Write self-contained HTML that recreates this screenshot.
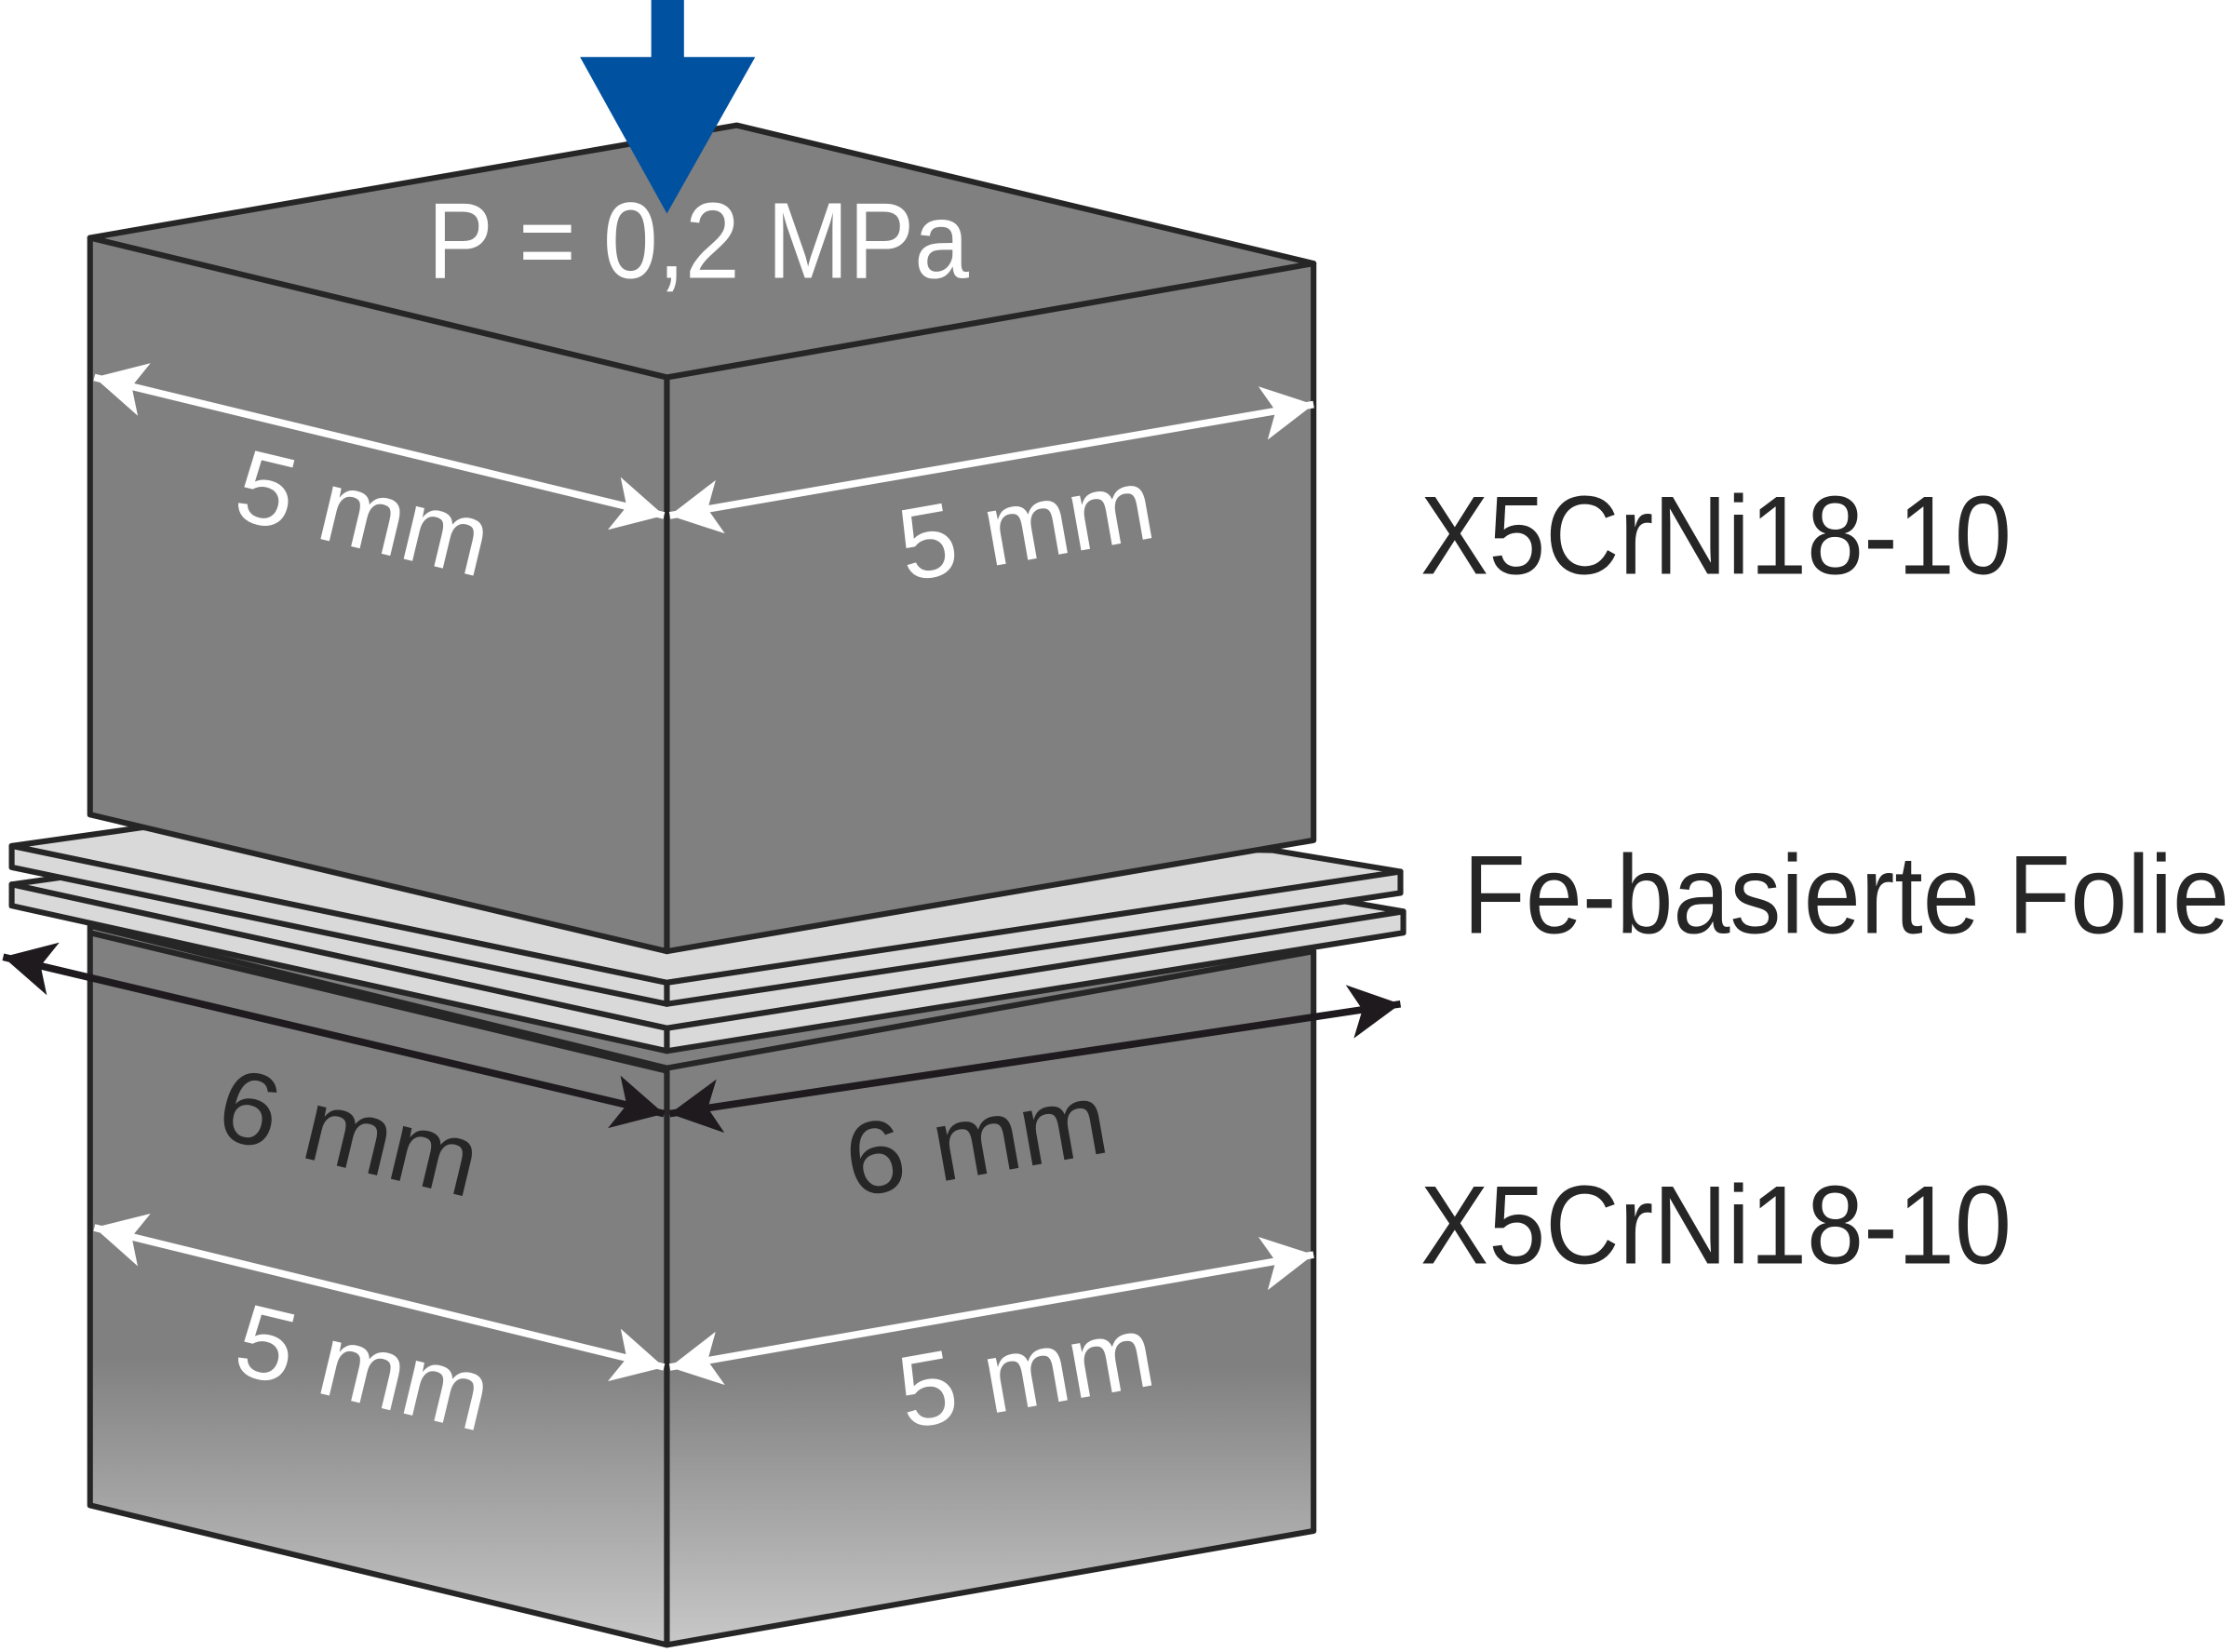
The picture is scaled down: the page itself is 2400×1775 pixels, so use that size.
<!DOCTYPE html>
<html><head><meta charset="utf-8"><style>html,body{margin:0;padding:0;background:#fff}svg{display:block}</style></head>
<body>
<svg width="2400" height="1775" viewBox="0 0 1568 1160" xmlns="http://www.w3.org/2000/svg">
<defs>
<linearGradient id="g" x1="0" y1="0" x2="0" y2="1">
<stop offset="0" stop-color="#808080"/><stop offset="0.6" stop-color="#808080"/><stop offset="1" stop-color="#c8c8c8"/>
</linearGradient>
<marker id="wh" viewBox="0 0 10 10" refX="10" refY="5" markerWidth="36" markerHeight="38" markerUnits="userSpaceOnUse" orient="auto-start-reverse" preserveAspectRatio="none"><path d="M0,0L10,5L0,10L2.5,5Z" fill="#fff"/></marker>
<marker id="bh" viewBox="0 0 10 10" refX="10" refY="5" markerWidth="36" markerHeight="38" markerUnits="userSpaceOnUse" orient="auto-start-reverse" preserveAspectRatio="none"><path d="M0,0L10,5L0,10L2.5,5Z" fill="#1e1a1e"/></marker>
</defs>
<polygon points="63,640 468,736 922,650 922,668 468,750 63,655" fill="#808080"/>
<g stroke="#262626" stroke-width="4" stroke-linejoin="round">
<!-- bottom block -->
<polygon points="63,650 468,750 468,1155 63,1057" fill="url(#g)"/>
<polygon points="468,750 922,668 922,1075 468,1155" fill="url(#g)"/>
<!-- foil 2 -->
<polygon points="8,621 100,608 893,624 985,640 468,722" fill="#d9d9d9"/>
<polygon points="8,621 468,722 468,738 8,636" fill="#d9d9d9"/>
<polygon points="468,722 985,640 985,655 468,738" fill="#d9d9d9"/>
<!-- foil 1 -->
<polygon points="8,594 100,581 893,597 983,612 468,690" fill="#d9d9d9"/>
<polygon points="8,594 468,690 468,705 8,609" fill="#d9d9d9"/>
<polygon points="468,690 983,612 983,627 468,705" fill="#d9d9d9"/>
<!-- top block -->
<polygon points="63,167 517,88 922,185 468,265" fill="#808080"/>
<polygon points="63,167 468,265 468,668 63,572" fill="#808080"/>
<polygon points="468,265 922,185 922,590 468,668" fill="#808080"/>
</g>
<line x1="63" y1="655" x2="468" y2="752" stroke="#262626" stroke-width="4"/>
<!-- dimension arrows -->
<g stroke="#fff" stroke-width="5" fill="none">
<line x1="66" y1="265" x2="466" y2="362" marker-start="url(#wh)" marker-end="url(#wh)"/>
<line x1="470" y1="362" x2="922" y2="284" marker-start="url(#wh)" marker-end="url(#wh)"/>
<line x1="66" y1="862" x2="466" y2="960" marker-start="url(#wh)" marker-end="url(#wh)"/>
<line x1="470" y1="960" x2="922" y2="881" marker-start="url(#wh)" marker-end="url(#wh)"/>
</g>
<g stroke="#1e1a1e" stroke-width="5" fill="none">
<line x1="2" y1="672" x2="466" y2="782" marker-start="url(#bh)" marker-end="url(#bh)"/>
<line x1="470" y1="782" x2="983" y2="705" marker-start="url(#bh)" marker-end="url(#bh)"/>
</g>
<!-- blue force arrow -->
<rect x="457" y="0" width="23" height="42" fill="#0052a1"/>
<polygon points="407,40 530,40 468,150" fill="#0052a1"/>
<g font-family="Liberation Sans, sans-serif">
<text x="300" y="195" font-size="76" fill="#fff" textLength="380" lengthAdjust="spacingAndGlyphs">P = 0,2 MPa</text>
<text x="255" y="385" font-size="72" fill="#fff" text-anchor="middle" textLength="180" lengthAdjust="spacingAndGlyphs" transform="rotate(13.5 255 360)">5 mm</text>
<text x="720" y="393" font-size="72" fill="#fff" text-anchor="middle" textLength="180" lengthAdjust="spacingAndGlyphs" transform="rotate(-10 720 368)">5 mm</text>
<text x="245" y="820" font-size="72" fill="#262626" text-anchor="middle" textLength="185" lengthAdjust="spacingAndGlyphs" transform="rotate(13.5 245 795)">6 mm</text>
<text x="685" y="825" font-size="72" fill="#262626" text-anchor="middle" textLength="185" lengthAdjust="spacingAndGlyphs" transform="rotate(-10 685 800)">6 mm</text>
<text x="255" y="985" font-size="72" fill="#fff" text-anchor="middle" textLength="180" lengthAdjust="spacingAndGlyphs" transform="rotate(13.5 255 960)">5 mm</text>
<text x="720" y="988" font-size="72" fill="#fff" text-anchor="middle" textLength="180" lengthAdjust="spacingAndGlyphs" transform="rotate(-10 720 963)">5 mm</text>
<text x="997" y="403" font-size="78" fill="#262626" textLength="415" lengthAdjust="spacingAndGlyphs">X5CrNi18-10</text>
<text x="1027" y="655" font-size="78" fill="#262626" textLength="538" lengthAdjust="spacingAndGlyphs">Fe-basierte Folie</text>
<text x="997" y="887" font-size="78" fill="#262626" textLength="415" lengthAdjust="spacingAndGlyphs">X5CrNi18-10</text>
</g>
</svg>
</body></html>
